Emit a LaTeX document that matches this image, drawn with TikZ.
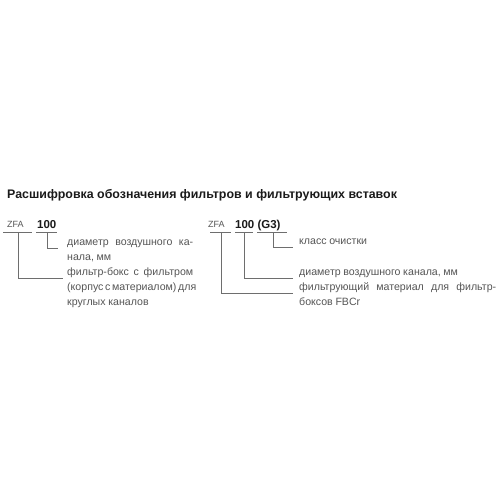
\documentclass[tikz,border=0pt]{standalone}
\usepackage{fontspec}
\setmainfont{Liberation Sans}
\definecolor{txtgray}{HTML}{555555}
\definecolor{lngray}{HTML}{6E6E6E}
\definecolor{ttlblack}{HTML}{1A1A1A}
\newcommand{\mybodyfont}{\fontsize{10.6}{15}\selectfont\spaceskip=0.25em plus 0.5em minus 0.09em\relax}
\tikzset{
  body/.style={anchor=base west, inner sep=0pt, text=txtgray, font=\mybodyfont},
  code/.style={anchor=base west, inner sep=0pt, text=txtgray, font=\fontsize{9}{11}\selectfont},
  codeb/.style={anchor=base west, inner sep=0pt, text=ttlblack, font=\fontsize{11.5}{13}\selectfont\bfseries},
  title/.style={anchor=base west, inner sep=0pt, text=ttlblack, font=\fontsize{12.4}{14}\selectfont\bfseries},
  conn/.style={draw=lngray, line width=0.9pt},
}
\begin{document}
\begin{tikzpicture}[x=1pt, y=-1pt]
\useasboundingbox (0,0) rectangle (500,500);
\node[title] (t) at (7,198) {Расшифровка обозначения фильтров и фильтрующих вставок};
% left code
\node[code] (lz) at (7,227) {ZFA};
\node[codeb] (l100) at (37,228) {100};
\coordinate (lu1a) at (3,232); \coordinate (lu1b) at (32,232);
\coordinate (lu2a) at (36,232); \coordinate (lu2b) at (57,232);
\draw[conn] (lu1a) -- (lu1b);
\draw[conn] (lu2a) -- (lu2b);
\node[body] (la1) at (67,245) {\makebox[126pt][s]{диаметр воздушного ка-}};
\node[body] (la2) at (67,260) {нала, мм};
\node[body] (lb1) at (67,275) {\makebox[126pt][s]{фильтр-бокс с фильтром}};
\node[body] (lb2) at (67,290) {\makebox[126pt][s]{(корпус с материалом) для}};
\node[body] (lb3) at (67,305) {круглых каналов};
\coordinate (lc1) at (18,232); \coordinate (lc2) at (47,232);
\draw[conn] (lc2) |- ([xshift=-9pt,yshift=-3pt]la1.base west);
\draw[conn] (lc1) |- ([xshift=-4pt,yshift=-3pt]lb1.base west);
% right code
\node[code] (rz) at (208,227) {ZFA};
\node[codeb] (r100) at (235,228) {100 (G3)};
\coordinate (ru1a) at (210,232); \coordinate (ru1b) at (231,232);
\coordinate (ru2a) at (235,232); \coordinate (ru2b) at (253,232);
\coordinate (ru3a) at (257,232); \coordinate (ru3b) at (287,232);
\draw[conn] (ru1a) -- (ru1b);
\draw[conn] (ru2a) -- (ru2b);
\draw[conn] (ru3a) -- (ru3b);
\node[body] (ra1) at (299,244) {класс очистки};
\node[body] (rb1) at (299,275) {диаметр воздушного канала, мм};
\node[body] (rc1) at (299,290) {\makebox[197pt][s]{фильтрующий материал для фильтр-}};
\node[body] (rc2) at (299,305) {боксов FBCr};
\coordinate (rc3) at (273,232); \coordinate (rc4) at (244,232); \coordinate (rc5) at (221,232);
\draw[conn] (rc3) |- ([xshift=-6pt,yshift=-3pt]ra1.base west);
\draw[conn] (rc4) |- ([xshift=-6pt,yshift=-3pt]rb1.base west);
\draw[conn] (rc5) |- ([xshift=-6pt,yshift=-3pt]rc1.base west);
\end{tikzpicture}
\end{document}
